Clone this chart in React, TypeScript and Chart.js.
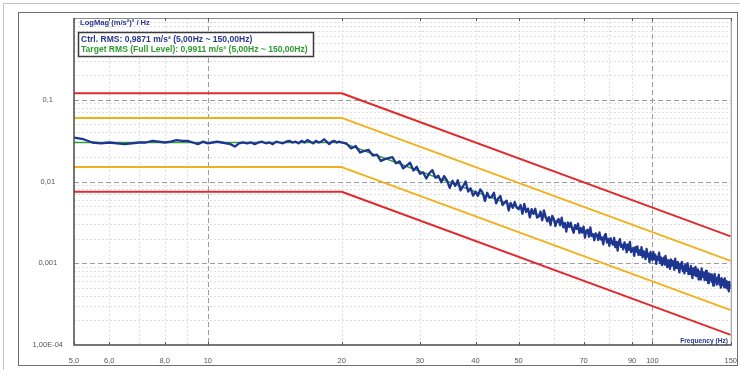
import React, { useEffect, useRef } from "react";
import { Chart, registerables } from "chart.js";

Chart.register(...registerables);

// ---------- axis ticks ----------
const xTickValues = [5, 6, 8, 10, 20, 30, 40, 50, 70, 90, 100, 150];
const xTickLabels = ["5,0", "6,0", "8,0", "10", "20", "30", "40", "50", "70", "90", "100", "150"];
const yTickValues = [0.0001, 0.001, 0.01, 0.1];
const yTickLabels = ["1,00E-04", "0,001", "0,01", "0,1"];

// ---------- reference profile and tolerance lines (breakpoints) ----------
const profileFreqs = [5, 20, 150];
const targetPsd = [0.03, 0.03, 0.000533];
const abortHigh = [0.12, 0.12, 0.00213];
const alarmHigh = [0.06, 0.06, 0.00107];
const alarmLow = [0.015, 0.015, 0.000267];
const abortLow = [0.0075, 0.0075, 0.000133];

// ---------- measured control spectrum: deviation from target (dB) ----------
// 5.00 .. 20.00 Hz, 0.25 Hz lines
const lowBandStart = 5;
const lowBandStep = 0.25;
const ctrlDevLowDb = [
  0.6, 0.4, 0.0, -0.1, 0.0, -0.1, -0.2, -0.1, 0.0, 0.0,
  0.2, 0.1, 0.0, 0.1, 0.3, 0.2, 0.2, 0.0, -0.2, 0.1,
  -0.1, 0.0, 0.1, 0.0, -0.1, -0.2, -0.5, -0.1, 0.0, -0.1,
  0.0, -0.2, 0.0, 0.1, -0.1, 0.0, -0.2, 0.1, 0.0, -0.1,
  0.1, 0.2, 0.0, 0.1, -0.1, 0.2, 0.0, 0.3, 0.1, -0.1,
  0.2, 0.0, 0.1, 0.4, 0.1, -0.2, 0.1, 0.2, 0.0, 0.1,
  0.0,
];
// 20.5 .. 150 Hz, 0.5 Hz lines
const highBandStart = 20.5;
const highBandStep = 0.5;
const ctrlDevHighDb = [
  0.1, -0.3, 0.2, -0.4, 0.0, 0.3, -0.2, 0.1, -0.5, -0.1,
  0.2, 0.5, -0.1, 0.3, -0.4, 0.1, 0.6, -0.2, 0.4, -0.3,
  0.0, -0.6, 0.2, 0.7, -0.1, 0.3, -0.4, 0.5, 0.1, -0.7,
  0.3, -0.2, 0.6, -0.5, 0.1, 0.8, -0.3, 0.2, -0.6, 0.0,
  -0.4, 0.5, 0.2, -0.7, 0.4, -0.1, 0.1, 0.7, -0.5, 0.2,
  0.6, -0.4, 0.0, 0.3, -0.8, 0.2, -0.3, 0.5, -0.1, -0.2,
  0.4, -0.6, 0.7, -0.2, 0.3, -0.7, 0.4, -0.1, 0.6, -0.4,
  -0.2, 0.5, -0.5, 0.8, 0.1, -0.4, 0.2, -0.7, 0.5, 0.2,
  -0.6, 0.1, 0.4, -0.3, 0.7, -0.4, 0.2, -0.8, 0.4, -0.1,
  0.5, -0.2, -0.6, 0.4, 0.0, 0.7, -0.4, 0.3, -0.2, 0.6,
  -0.7, 0.2, 0.4, -0.4, 0.8, -0.2, 0.1, -0.6, 0.3, 0.2,
  -0.4, 0.6, -0.2, 0.1, -0.7, 0.4, 0.7, -0.3, 0.2, -0.6,
  0.4, -0.1, -0.3, 0.6, -0.5, 0.2, -0.8, 0.3, 0.7, -0.2,
  0.1, -0.4, 0.5, 0.2, -0.6, 0.4, -0.2, 0.8, -0.4, 0.0,
  0.2, -0.7, 0.4, -0.1, 0.6, -0.4, 0.2, -0.3, 0.7, -0.5,
  0.3, 0.0, -0.6, 0.7, -0.2, 0.2, -0.8, 0.5, -0.1, -0.4,
  0.6, -0.2, 0.4, -0.7, 0.2, -0.1, 0.8, -0.4, 0.3, -0.6,
  0.0, 0.4, -0.4, 0.7, -0.2, -0.6, 0.3, 0.2, -0.7, 0.5,
  -0.2, 0.4, 0.1, -0.6, 0.8, -0.3, 0.2, 0.5, -0.2, -0.7,
  0.4, -0.1, 0.7, -0.4, 0.2, -0.6, 0.5, -0.2, 0.1, 0.8,
  -0.5, 0.2, -0.4, 0.6, 0.0, -0.8, 0.4, 0.1, -0.3, 0.7,
  -0.4, 0.1, 0.5, -0.7, 0.3, 0.2, -0.6, 0.8, -0.2, 0.0,
  0.4, -0.5, 0.2, 0.7, -0.4, 0.1, -0.7, 0.5, 0.2, -0.2,
  0.5, -0.4, 0.1, -0.8, 0.3, 0.7, -0.2, 0.2, -0.5, 0.4,
  -0.1, 0.8, -0.4, 0.2, -0.7, 0.5, 0.0, -0.3, 0.4, -0.5,
  0.6, -0.2, 0.3, -0.5, 0.3, -0.1, -0.8, 0.4, -0.3, 0.1,
];

const titleText = "LogMag (m/s²)² / Hz";
const ctrlRmsText = "Ctrl. RMS: 0,9871 m/s² (5,00Hz ~ 150,00Hz)";
const targetRmsText = "Target RMS (Full Level): 0,9911 m/s² (5,00Hz ~ 150,00Hz)";
const xAxisTitle = "Frequency (Hz)";

// ---------- helpers ----------
function profileAt(f: number): number {
  for (let i = 0; i < profileFreqs.length - 1; i++) {
    const f0 = profileFreqs[i], f1 = profileFreqs[i + 1];
    if (f <= f1 + 1e-9) {
      const t = (Math.log10(f) - Math.log10(f0)) / (Math.log10(f1) - Math.log10(f0));
      return Math.pow(10, Math.log10(targetPsd[i]) + t * (Math.log10(targetPsd[i + 1]) - Math.log10(targetPsd[i])));
    }
  }
  return targetPsd[targetPsd.length - 1];
}

function buildCtrl() {
  const pts: { x: number; y: number }[] = [];
  ctrlDevLowDb.forEach((d, i) => {
    const f = lowBandStart + i * lowBandStep;
    pts.push({ x: f, y: profileAt(f) * Math.pow(10, d / 10) });
  });
  ctrlDevHighDb.forEach((d, i) => {
    const f = highBandStart + i * highBandStep;
    pts.push({ x: f, y: profileAt(f) * Math.pow(10, d / 10) });
  });
  return pts;
}

const toPts = (vals: number[]) => vals.map((v, i) => ({ x: profileFreqs[i], y: v }));

const BLUE_TEXT = "#28368c";

function fitSize(ctx: CanvasRenderingContext2D, text: string, weight: string, family: string, targetW: number) {
  ctx.font = `${weight} 10px ${family}`;
  const w = ctx.measureText(text).width;
  return (10 * targetW) / w;
}

const decorPlugin = {
  id: "decor",
  beforeDraw(chart: any) {
    const { ctx, width, height } = chart;
    ctx.save();
    ctx.fillStyle = "#ffffff";
    ctx.fillRect(0, 0, width, height);
    ctx.strokeStyle = "#c4c4c4";
    ctx.lineWidth = 1;
    ctx.strokeRect(3.5, 3.5, width, height);
    ctx.strokeStyle = "#6e6e6e";
    ctx.strokeRect(18.5, 12.5, 719, 353);
    ctx.restore();
  },
  beforeDatasetsDraw(chart: any) {
    const { ctx, chartArea: a } = chart;
    const xs = chart.scales.x, ys = chart.scales.y;
    ctx.save();
    ctx.beginPath();
    ctx.rect(a.left, a.top, a.right - a.left, a.bottom - a.top);
    ctx.clip();
    ctx.lineWidth = 1;
    // minor grid
    ctx.strokeStyle = "#dedede";
    ctx.setLineDash([2, 2]);
    const minorY: number[] = [];
    [0.0001, 0.001, 0.01, 0.1].forEach((d) => {
      for (let k = 2; k <= 9; k++) minorY.push(d * k);
    });
    minorY.forEach((v) => {
      const py = Math.round(ys.getPixelForValue(v)) + 0.5;
      ctx.beginPath(); ctx.moveTo(a.left, py); ctx.lineTo(a.right, py); ctx.stroke();
    });
    const minorX = [6, 7, 8, 9, 20, 30, 40, 50, 60, 70, 80, 90];
    minorX.forEach((v) => {
      const px = Math.round(xs.getPixelForValue(v)) + 0.5;
      ctx.beginPath(); ctx.moveTo(px, a.top); ctx.lineTo(px, a.bottom); ctx.stroke();
    });
    // major grid
    ctx.strokeStyle = "#9c9c9c";
    ctx.setLineDash([5, 3]);
    [0.001, 0.01, 0.1].forEach((v) => {
      const py = Math.round(ys.getPixelForValue(v)) + 0.5;
      ctx.beginPath(); ctx.moveTo(a.left, py); ctx.lineTo(a.right, py); ctx.stroke();
    });
    [10, 100].forEach((v) => {
      const px = Math.round(xs.getPixelForValue(v)) + 0.5;
      ctx.beginPath(); ctx.moveTo(px, a.top); ctx.lineTo(px, a.bottom); ctx.stroke();
    });
    ctx.restore();
  },
  afterDraw(chart: any) {
    const { ctx, chartArea: a } = chart;
    const xs = chart.scales.x;
    ctx.save();
    ctx.setLineDash([]);
    // plot frame
    ctx.strokeStyle = "#8c8c8c";
    ctx.lineWidth = 1;
    ctx.beginPath();
    ctx.moveTo(a.left, a.top + 0.5); ctx.lineTo(a.right + 0.5, a.top + 0.5); ctx.lineTo(a.right + 0.5, a.bottom);
    ctx.stroke();
    ctx.strokeStyle = "#4a4a4a";
    ctx.lineWidth = 1.5;
    ctx.beginPath();
    ctx.moveTo(a.left, a.top); ctx.lineTo(a.left, a.bottom); ctx.lineTo(a.right + 1, a.bottom);
    ctx.stroke();
    // small tick marks top/bottom
    ctx.lineWidth = 1;
    ctx.strokeStyle = "#555";
    xTickValues.forEach((v) => {
      const px = Math.round(xs.getPixelForValue(v)) + 0.5;
      ctx.beginPath(); ctx.moveTo(px, a.top); ctx.lineTo(px, a.top + 3); ctx.stroke();
      ctx.beginPath(); ctx.moveTo(px, a.bottom); ctx.lineTo(px, a.bottom - 3); ctx.stroke();
    });
    const fam = "'Liberation Sans', Arial, sans-serif";
    // title
    ctx.fillStyle = BLUE_TEXT;
    ctx.textBaseline = "middle";
    ctx.textAlign = "left";
    let s = fitSize(ctx, titleText, "bold", fam, 70);
    ctx.font = `bold ${s}px ${fam}`;
    ctx.fillText(titleText, 80, 23);
    // legend box
    ctx.fillStyle = "#ffffff";
    ctx.fillRect(78, 32, 235, 25);
    ctx.strokeStyle = "#3a3a3a";
    ctx.lineWidth = 1.5;
    ctx.strokeRect(78.5, 32.5, 235, 24);
    s = fitSize(ctx, targetRmsText, "bold", fam, 227);
    ctx.font = `bold ${s}px ${fam}`;
    ctx.fillStyle = BLUE_TEXT;
    ctx.fillText(ctrlRmsText, 81, 39.5);
    ctx.fillStyle = "#2f9a2f";
    ctx.fillText(targetRmsText, 81, 49.5);
    // x axis title
    s = fitSize(ctx, xAxisTitle, "bold", fam, 48);
    ctx.font = `bold ${s}px ${fam}`;
    ctx.fillStyle = BLUE_TEXT;
    ctx.textAlign = "right";
    ctx.fillText(xAxisTitle, 728, 341);
    ctx.restore();
  },
};

export default function App() {
  const ref = useRef<HTMLCanvasElement | null>(null);
  useEffect(() => {
    if (!ref.current) return;
    const lineDs = (label: string, data: any[], color: string, width: number) => ({
      label,
      data,
      borderColor: color,
      backgroundColor: color,
      borderWidth: width,
      pointRadius: 0,
      tension: 0,
      fill: false,
      borderJoinStyle: "round" as const,
    });
    const chart = new Chart(ref.current, {
      type: "line",
      data: {
        datasets: [
          lineDs("Ctrl", buildCtrl(), "#1f3592", 2.3),
          lineDs("Target", toPts(targetPsd), "#33a033", 1.5),
          lineDs("Alarm high", toPts(alarmHigh), "#f2b01c", 2),
          lineDs("Alarm low", toPts(alarmLow), "#f2b01c", 2),
          lineDs("Abort high", toPts(abortHigh), "#e12a2c", 2),
          lineDs("Abort low", toPts(abortLow), "#e12a2c", 2),
        ],
      },
      options: {
        animation: false,
        responsive: false,
        parsing: false as any,
        normalized: true,
        layout: { padding: { left: 0, right: 9, top: 18, bottom: 0 } },
        plugins: { legend: { display: false }, tooltip: { enabled: false }, title: { display: false } },
        scales: {
          x: {
            type: "logarithmic",
            min: 5,
            max: 150,
            grid: { display: false },
            border: { display: false },
            afterBuildTicks: (sc: any) => {
              sc.ticks = xTickValues.map((v) => ({ value: v }));
            },
            afterFit: (sc: any) => {
              sc.height = 25;
            },
            ticks: {
              autoSkip: false,
              maxRotation: 0,
              padding: 3,
              color: "#555",
              font: { family: "'Liberation Sans', Arial, sans-serif", size: 7.5 },
              callback: (v: any) => {
                const i = xTickValues.indexOf(Number(v));
                return i >= 0 ? xTickLabels[i] : "";
              },
            },
          },
          y: {
            type: "logarithmic",
            min: 0.0001,
            max: 1,
            grid: { display: false },
            border: { display: false },
            afterBuildTicks: (sc: any) => {
              sc.ticks = yTickValues.map((v) => ({ value: v }));
            },
            afterFit: (sc: any) => {
              sc.width = 74;
            },
            ticks: {
              autoSkip: false,
              padding: 3,
              crossAlign: "center",
              color: "#555",
              font: { family: "'Liberation Sans', Arial, sans-serif", size: 7.5 },
              callback: (v: any) => {
                const i = yTickValues.findIndex((t) => Math.abs(t - Number(v)) / t < 1e-6);
                return i >= 0 ? yTickLabels[i] : "";
              },
            },
          },
        },
      },
      plugins: [decorPlugin],
    });
    return () => chart.destroy();
  }, []);
  return (
    <div style={{ position: "absolute", left: 0, top: 0, width: 740, height: 370, background: "#fff" }}>
      <canvas ref={ref} width={740} height={370} style={{ display: "block", width: 740, height: 370 }} />
    </div>
  );
}
